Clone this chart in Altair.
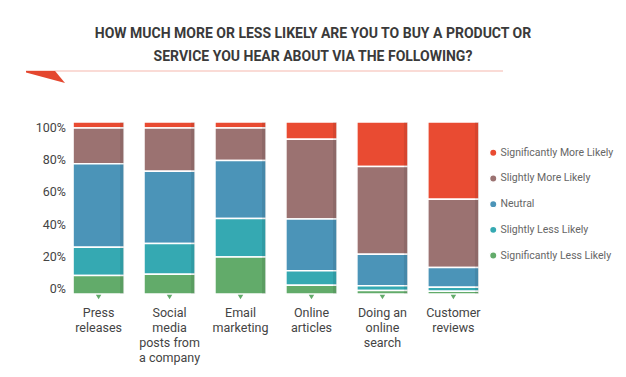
import altair as alt
import pandas as pd

categories = ["Press|releases", "Social|media|posts from|a company", "Email|marketing",
              "Online|articles", "Doing an|online|search", "Customer|reviews"]
levels = ["Significantly More Likely", "Slightly More Likely", "Neutral",
          "Slightly Less Likely", "Significantly Less Likely"]
colors = ["#E94B32", "#9B7271", "#4B94B8", "#35A9B2", "#62AB6A"]

sig_more = [3.5, 3.5, 3.5, 10.1, 25.9, 44.9]
slight_more = [20.8, 25.1, 18.9, 46.3, 51.0, 39.7]
neutral = [48.4, 42.0, 33.7, 30.2, 18.3, 11.5]
slight_less = [16.5, 17.9, 22.4, 8.4, 2.7, 2.3]
sig_less = [10.7, 11.5, 21.6, 5.1, 2.1, 1.6]

y_ticks = [0, 20, 40, 60, 80, 100]
title_lines = ["HOW MUCH MORE OR LESS LIKELY ARE YOU TO BUY A PRODUCT OR",
               "SERVICE YOU HEAR ABOUT VIA THE FOLLOWING?"]

series = [sig_more, slight_more, neutral, slight_less, sig_less]
rows = []
for li, (lev, vals) in enumerate(zip(levels, series)):
    for c, v in zip(categories, vals):
        rows.append({"cat": c, "level": lev, "value": v, "rank": len(levels) - 1 - li})
df = pd.DataFrame(rows)

FONT = "Roboto"
W, H = 413, 172

xscale = alt.Scale(domain=categories, paddingInner=0.28, paddingOuter=0.05)
xenc = alt.X("cat:N", scale=xscale, sort=categories, title=None,
             axis=alt.Axis(labelExpr="split(datum.label, '|')", labelAngle=0,
                           labelFontSize=12.5, labelColor="#444", labelFont=FONT,
                           labelLineHeight=15, labelPadding=12, domain=False,
                           ticks=False, labelBaseline="top"))
yenc = alt.Y("value:Q", stack="normalize", scale=alt.Scale(domain=[0, 1], nice=False), axis=None)

bars = alt.Chart(df).mark_bar(stroke="white", strokeWidth=1.5).encode(
    x=xenc,
    y=yenc,
    color=alt.Color("level:N", scale=alt.Scale(domain=levels, range=colors),
                    legend=alt.Legend(title=None, orient="none", legendX=418.5, legendY=25.5,
                                      symbolType="circle", symbolSize=55, labelFontSize=10.5,
                                      labelFont=FONT, labelColor="#666", rowPadding=11.7,
                                      labelOffset=2, padding=0)),
    order=alt.Order("rank:Q", sort="ascending"),
)

shade = alt.Chart(df).mark_bar(width=4, xOffset=23.5, color="black", opacity=0.08).encode(
    x=xenc,
    y=yenc,
    order=alt.Order("rank:Q", sort="ascending"),
)

tri = alt.Chart(pd.DataFrame({"cat": categories})).mark_point(
    shape="triangle-down", filled=True, color="#62AB6A", size=30, opacity=1).encode(
    x=xenc,
    y=alt.value(H + 3),
)

yaxis = alt.Chart(pd.DataFrame({"v": y_ticks})).mark_point(opacity=0).encode(
    y=alt.Y("v:Q", scale=alt.Scale(domain=[-3.1, 103.1], nice=False), title=None,
            axis=alt.Axis(values=y_ticks, labelExpr="datum.value + '%'", orient="left",
                          labelFontSize=12.5, labelColor="#444", labelFont=FONT,
                          domain=False, ticks=False, grid=False, labelPadding=4)),
)

line = alt.Chart(pd.DataFrame({"a": [0]})).mark_rule(color="#F8CFC9", strokeWidth=1.5).encode(
    x=alt.value(-43.5), x2=alt.value(433.5), y=alt.value(-51))

wedge = alt.Chart(pd.DataFrame({"a": [0]})).mark_point(
    shape="M -1 -0.31 L 0.49 -0.31 L 1 0.31 L -1 -0.23 Z", filled=True,
    color="#E4472F", size=1521, opacity=1).encode(
    x=alt.value(-24), y=alt.value(-45))

title1 = alt.Chart(pd.DataFrame({"a": [0]})).mark_text(
    text=title_lines[0], font=FONT, fontSize=14, fontWeight="bold", color="#3a3a3a",
    align="center", baseline="middle").encode(x=alt.value(243.5), y=alt.value(-88.5))
title2 = alt.Chart(pd.DataFrame({"a": [0]})).mark_text(
    text=title_lines[1], font=FONT, fontSize=14, fontWeight="bold", color="#3a3a3a",
    align="center", baseline="middle").encode(x=alt.value(243.5), y=alt.value(-65.5))

chart = alt.layer(line, wedge, title1, title2, bars, shade, tri, yaxis).resolve_scale(
    y="independent").properties(
    width=W, height=H,
    autosize=alt.AutoSizeParams(type="none"),
    padding={"left": 61.5, "top": 114, "right": 135.5, "bottom": 75},
).configure_view(stroke=None)

chart.save("out.html", embed_options={"renderer": "svg", "actions": False})
